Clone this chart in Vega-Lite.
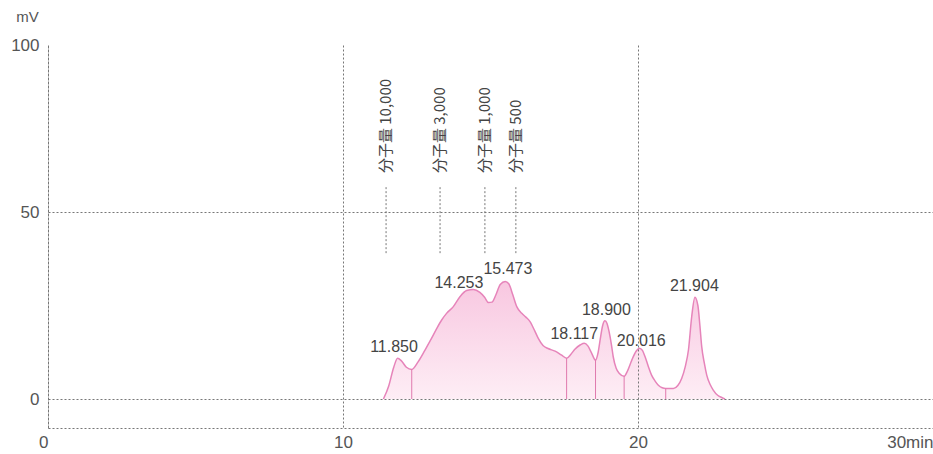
{
  "$schema": "https://vega.github.io/schema/vega-lite/v6.json",
  "width": 885,
  "height": 383,
  "autosize": "none",
  "padding": {"left": 48, "top": 45, "right": 0, "bottom": 26},
  "background": "white",
  "config": {"view": {"stroke": null}},
  "datasets": {
    "curve": [
      {"t": 11.37, "v": 0}, {"t": 11.55, "v": 3.5}, {"t": 11.72, "v": 8.5}, {"t": 11.85, "v": 10.9},
      {"t": 11.98, "v": 10.2}, {"t": 12.15, "v": 8.5}, {"t": 12.33, "v": 7.9}, {"t": 12.55, "v": 10.0},
      {"t": 12.78, "v": 13.1}, {"t": 13.0, "v": 16.2}, {"t": 13.18, "v": 18.9}, {"t": 13.35, "v": 21.2},
      {"t": 13.51, "v": 22.9}, {"t": 13.74, "v": 24.7}, {"t": 13.97, "v": 27.4}, {"t": 14.19, "v": 29.0},
      {"t": 14.42, "v": 29.3}, {"t": 14.64, "v": 28.5}, {"t": 14.8, "v": 27.2}, {"t": 14.93, "v": 25.8},
      {"t": 15.05, "v": 25.9}, {"t": 15.18, "v": 27.8}, {"t": 15.33, "v": 30.6}, {"t": 15.5, "v": 31.4},
      {"t": 15.62, "v": 30.8}, {"t": 15.75, "v": 28.0}, {"t": 15.89, "v": 24.7}, {"t": 16.06, "v": 22.9},
      {"t": 16.2, "v": 21.9}, {"t": 16.34, "v": 20.7}, {"t": 16.5, "v": 18.2}, {"t": 16.62, "v": 16.2},
      {"t": 16.78, "v": 14.3}, {"t": 16.95, "v": 13.5}, {"t": 17.19, "v": 12.8}, {"t": 17.4, "v": 11.8},
      {"t": 17.58, "v": 10.9}, {"t": 17.72, "v": 11.9}, {"t": 17.86, "v": 13.3}, {"t": 18.05, "v": 14.5},
      {"t": 18.18, "v": 14.9}, {"t": 18.3, "v": 14.2}, {"t": 18.42, "v": 12.4}, {"t": 18.56, "v": 10.4},
      {"t": 18.65, "v": 12.5}, {"t": 18.72, "v": 16.0}, {"t": 18.8, "v": 19.6}, {"t": 18.88, "v": 20.9},
      {"t": 18.95, "v": 20.2}, {"t": 19.02, "v": 18.0}, {"t": 19.1, "v": 14.5}, {"t": 19.16, "v": 11.3},
      {"t": 19.26, "v": 8.2}, {"t": 19.36, "v": 6.9}, {"t": 19.53, "v": 6.1}, {"t": 19.65, "v": 7.6},
      {"t": 19.79, "v": 10.4}, {"t": 19.93, "v": 12.7}, {"t": 20.05, "v": 13.6}, {"t": 20.15, "v": 13.0},
      {"t": 20.24, "v": 11.3}, {"t": 20.35, "v": 8.7}, {"t": 20.46, "v": 6.4}, {"t": 20.58, "v": 4.8},
      {"t": 20.69, "v": 3.7}, {"t": 20.82, "v": 3.0}, {"t": 20.94, "v": 2.8}, {"t": 21.2, "v": 2.8},
      {"t": 21.35, "v": 3.6}, {"t": 21.48, "v": 5.5}, {"t": 21.6, "v": 8.6}, {"t": 21.71, "v": 13.1},
      {"t": 21.82, "v": 22.0}, {"t": 21.93, "v": 27.2}, {"t": 22.03, "v": 25.0}, {"t": 22.1, "v": 19.5},
      {"t": 22.16, "v": 14.0}, {"t": 22.25, "v": 9.5}, {"t": 22.33, "v": 6.4}, {"t": 22.45, "v": 3.8},
      {"t": 22.55, "v": 2.4}, {"t": 22.7, "v": 1.0}, {"t": 22.84, "v": 0.4}, {"t": 22.95, "v": 0}
    ],
    "drops": [
      {"t": 12.33, "v": 7.9}, {"t": 17.58, "v": 10.9}, {"t": 18.56, "v": 10.4},
      {"t": 19.53, "v": 6.1}, {"t": 20.94, "v": 2.8}
    ],
    "peaks": [
      {"t": 11.73, "v": 13.8, "label": "11.850"},
      {"t": 13.93, "v": 31.1, "label": "14.253"},
      {"t": 15.59, "v": 34.8, "label": "15.473"},
      {"t": 17.84, "v": 17.3, "label": "18.117"},
      {"t": 18.93, "v": 23.9, "label": "18.900"},
      {"t": 20.11, "v": 15.5, "label": "20.016"},
      {"t": 21.91, "v": 30.3, "label": "21.904"}
    ],
    "markers": [
      {"t": 11.46, "label": "分子量 10,000"},
      {"t": 13.29, "label": "分子量 3,000"},
      {"t": 14.81, "label": "分子量 1,000"},
      {"t": 15.86, "label": "分子量 500"}
    ]
  },
  "layer": [
    {
      "data": {"name": "curve"},
      "mark": {
        "type": "area",
        "interpolate": "monotone",
        "color": {
          "gradient": "linear", "x1": 0, "y1": 0, "x2": 0, "y2": 1,
          "stops": [{"offset": 0, "color": "#f5afd3"}, {"offset": 1, "color": "#fde6f1"}]
        },
        "line": {"color": "#e684ba", "strokeWidth": 1.5}
      },
      "encoding": {
        "x": {
          "field": "t", "type": "quantitative",
          "scale": {"domain": [0, 30], "nice": false, "zero": false},
          "axis": {
            "title": null, "values": [0, 10, 20, 30], "zindex": 1,
            "labelExpr": "datum.value == 30 ? '30min' : datum.label",
            "labelAlign": {"condition": {"test": "datum.value == 30 || datum.value == 0", "value": "right"}, "value": "center"},
            "labelFont": "Liberation Sans", "labelFontSize": 17, "labelColor": "#555", "labelPadding": 6,
            "ticks": false, "domainColor": "#777", "domainDash": [2, 2], "domainWidth": 1,
            "grid": true, "gridColor": "#777", "gridDash": [2, 2], "gridWidth": 1,
            "gridOpacity": {"condition": {"test": "datum.value == 30", "value": 0}, "value": 1}
          }
        },
        "y": {
          "field": "v", "type": "quantitative",
          "scale": {"domain": [-7.75, 94.65], "nice": false, "zero": false},
          "axis": {
            "title": "mV", "titleAngle": 0, "titleX": -21, "titleY": -29, "titleAlign": "center",
            "titleBaseline": "middle", "titleFont": "Liberation Sans", "titleFontSize": 15,
            "titleFontWeight": "normal", "titleColor": "#555",
            "values": [0, 50, 94.65], "zindex": 1,
            "labelExpr": "datum.value > 90 ? '100' : datum.label",
            "labelFont": "Liberation Sans", "labelFontSize": 17, "labelColor": "#555", "labelPadding": 9,
            "ticks": false, "domainColor": "#777", "domainDash": [2, 2], "domainWidth": 1,
            "grid": true, "gridColor": "#777", "gridDash": [2, 2], "gridWidth": 1,
            "gridOpacity": {"condition": {"test": "datum.value > 90", "value": 0}, "value": 1}
          }
        }
      }
    },
    {
      "data": {"name": "drops"},
      "mark": {"type": "rule", "color": "#e07aae", "strokeWidth": 1},
      "encoding": {
        "x": {"field": "t", "type": "quantitative"},
        "y": {"field": "v", "type": "quantitative"},
        "y2": {"datum": 0}
      }
    },
    {
      "data": {"name": "markers"},
      "mark": {"type": "rule", "color": "#777", "strokeWidth": 1, "strokeDash": [2, 2]},
      "encoding": {
        "x": {"field": "t", "type": "quantitative"},
        "y": {"datum": 39.0, "type": "quantitative"},
        "y2": {"datum": 56.7}
      }
    },
    {
      "data": {"name": "markers"},
      "mark": {"type": "text", "angle": 270, "align": "left", "baseline": "middle", "font": "Noto Sans CJK JP", "fontSize": 15, "color": "#444"},
      "encoding": {
        "x": {"field": "t", "type": "quantitative"},
        "y": {"datum": 60.4, "type": "quantitative"},
        "text": {"field": "label"}
      }
    },
    {
      "data": {"name": "peaks"},
      "mark": {"type": "text", "align": "center", "baseline": "middle", "font": "Liberation Sans", "fontSize": 16, "color": "#444"},
      "encoding": {
        "x": {"field": "t", "type": "quantitative"},
        "y": {"field": "v", "type": "quantitative"},
        "text": {"field": "label"}
      }
    }
  ]
}
